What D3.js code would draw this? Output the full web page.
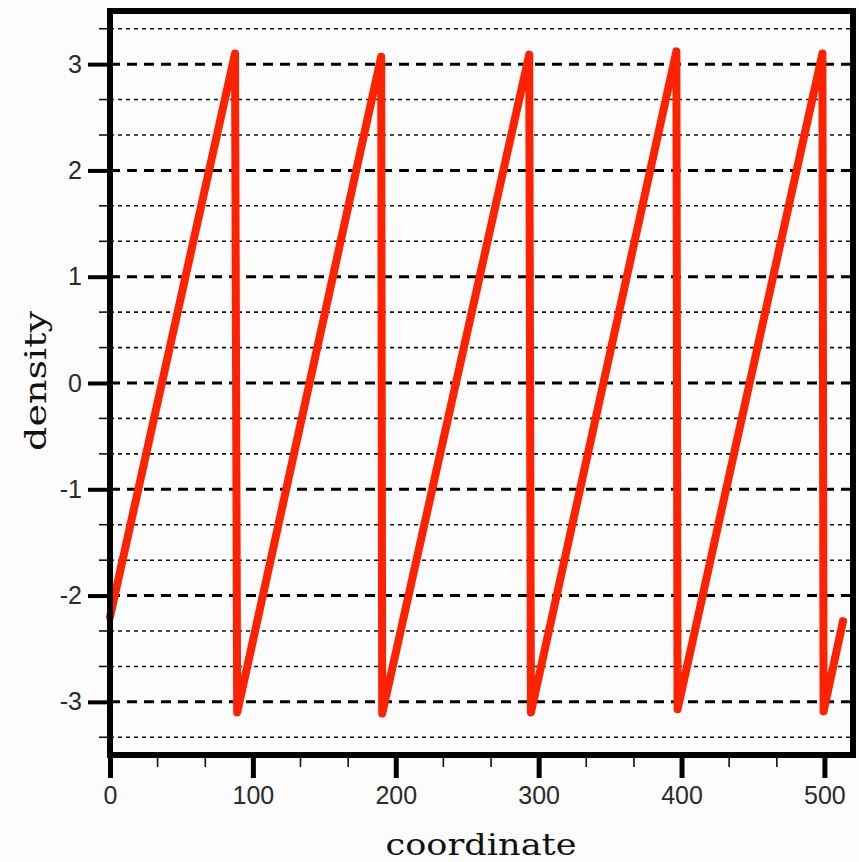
<!DOCTYPE html>
<html>
<head>
<meta charset="utf-8">
<script src="https://cdn.jsdelivr.net/npm/d3@7"></script>
<style>
  html, body { margin: 0; padding: 0; background: #fcfcfc; }
  svg { display: block; }
</style>
</head>
<body>
<script>
// Sawtooth profile: vertices of the wrapped density curve
const coordinate = [0, 87.5, 89, 189.8, 190.5, 293.4, 294.6, 396.4, 397.2, 498.6, 499.4, 513];
const density    = [-2.2, 3.1, -3.1, 3.07, -3.11, 3.09, -3.1, 3.12, -3.07, 3.1, -3.09, -2.24];

const xMajorTicks = [0, 100, 200, 300, 400, 500];
const xMinorTicks = [33.3, 66.7, 133.3, 166.7, 233.3, 266.7, 333.3, 366.7, 433.3, 466.7];
const yMajorTicks = [-3, -2, -1, 0, 1, 2, 3];
const yMinorTicks = [-3.333, -2.667, -2.333, -1.667, -1.333, -0.667, -0.333,
                     0.333, 0.667, 1.333, 1.667, 2.333, 2.667, 3.333];

const W = 859, H = 862;
const mLeft = 110, mRight = 853, mTop = 11, mBottom = 755;

const x = d3.scaleLinear().domain([0, 520]).range([mLeft, mRight]);
const y = d3.scaleLinear().domain([-3.5, 3.5]).range([mBottom, mTop]);

// plain hyphen-minus for negative labels
const fmt = d => String(d);

const svg = d3.select("body").append("svg").attr("width", W).attr("height", H);
svg.append("rect").attr("width", W).attr("height", H).attr("fill", "#fcfcfc");

// Minor horizontal grid (dotted) with short outside ticks
const minorG = svg.append("g");
minorG.selectAll("line.grid").data(yMinorTicks).join("line")
  .attr("class", "grid")
  .attr("x1", mLeft).attr("x2", mRight)
  .attr("y1", d => y(d)).attr("y2", d => y(d))
  .attr("stroke", "#111").attr("stroke-width", 1.6).attr("stroke-dasharray", "4,4");
minorG.selectAll("line.tick").data(yMinorTicks).join("line")
  .attr("class", "tick")
  .attr("x1", mLeft - 11).attr("x2", mLeft)
  .attr("y1", d => y(d)).attr("y2", d => y(d))
  .attr("stroke", "#111").attr("stroke-width", 1.6);

// Major horizontal grid (dashed)
svg.append("g").selectAll("line").data(yMajorTicks).join("line")
  .attr("x1", mLeft).attr("x2", mRight)
  .attr("y1", d => y(d)).attr("y2", d => y(d))
  .attr("stroke", "#000").attr("stroke-width", 3).attr("stroke-dasharray", "10,7");

// Y axis ticks and labels
const yAxis = d3.axisLeft(y).tickValues(yMajorTicks).tickSize(22).tickPadding(6)
  .tickFormat(fmt);
const gy = svg.append("g").attr("transform", `translate(${mLeft},0)`).call(yAxis);
gy.select(".domain").remove();
gy.selectAll(".tick line").attr("stroke", "#000").attr("stroke-width", 4);
gy.selectAll(".tick text")
  .attr("font-family", "'Liberation Sans', Arial, sans-serif")
  .attr("font-size", 25).attr("fill", "#2a2a2a");

// X axis minor ticks
svg.append("g").selectAll("line").data(xMinorTicks).join("line")
  .attr("x1", d => x(d)).attr("x2", d => x(d))
  .attr("y1", mBottom).attr("y2", mBottom + 12)
  .attr("stroke", "#111").attr("stroke-width", 1.6);

// X axis major ticks and labels
const xAxis = d3.axisBottom(x).tickValues(xMajorTicks).tickSize(23).tickPadding(8)
  .tickFormat(fmt);
const gx = svg.append("g").attr("transform", `translate(0,${mBottom})`).call(xAxis);
gx.select(".domain").remove();
gx.selectAll(".tick line").attr("stroke", "#000").attr("stroke-width", 5);
gx.selectAll(".tick text")
  .attr("font-family", "'Liberation Sans', Arial, sans-serif")
  .attr("font-size", 25).attr("fill", "#2a2a2a");

// Density curve
const pts = coordinate.map((c, i) => [c, density[i]]);
svg.append("path")
  .datum(pts)
  .attr("d", d3.line().x(d => x(d[0])).y(d => y(d[1])))
  .attr("fill", "none")
  .attr("stroke", "#ff2200")
  .attr("stroke-width", 8)
  .attr("stroke-linejoin", "round")
  .attr("stroke-linecap", "round");

// Plot frame
svg.append("rect")
  .attr("x", mLeft).attr("y", mTop)
  .attr("width", mRight - mLeft).attr("height", mBottom - mTop)
  .attr("fill", "none").attr("stroke", "#000").attr("stroke-width", 6);

// Axis titles
svg.append("text")
  .attr("x", 481).attr("y", 855)
  .attr("text-anchor", "middle")
  .attr("font-family", "'DejaVu Serif', serif")
  .attr("font-size", 30)
  .attr("textLength", 191).attr("lengthAdjust", "spacingAndGlyphs")
  .attr("fill", "#111")
  .text("coordinate");

svg.append("text")
  .attr("transform", "translate(46,381) rotate(-90)")
  .attr("text-anchor", "middle")
  .attr("font-family", "'DejaVu Serif', serif")
  .attr("font-size", 30)
  .attr("textLength", 140).attr("lengthAdjust", "spacingAndGlyphs")
  .attr("fill", "#111")
  .text("density");
</script>
</body>
</html>
